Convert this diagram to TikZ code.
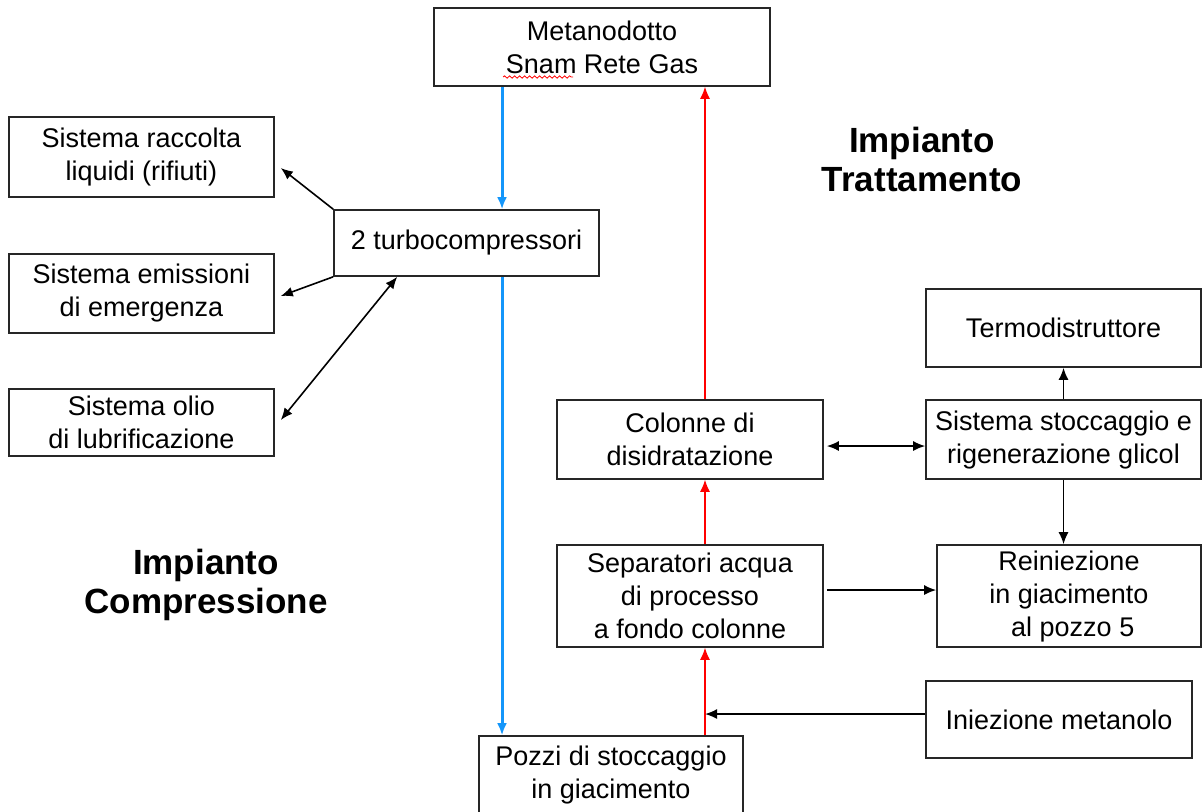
\documentclass[tikz,border=0pt]{standalone}
\usepackage{fontspec}
\setmainfont{Liberation Sans}
\usetikzlibrary{arrows.meta,decorations.pathmorphing}
\definecolor{flowblue}{RGB}{20,150,250}

\begin{document}
\begin{tikzpicture}[x=0.5pt,y=-0.5pt,>={Latex[length=6pt,width=5pt]},
  box/.style={draw=black!85,line width=0.8pt,fill=white,align=center,inner sep=0pt,
    font=\fontsize{13.5}{16.5}\selectfont},
  title/.style={align=center,font=\fontsize{17.5}{19.5}\selectfont\bfseries},
  link/.style={->,line width=0.8pt},
  gasdown/.style={->,flowblue,line width=1.5pt},
  gasup/.style={->,red,line width=0.6pt}]

\useasboundingbox (0,0) rectangle (1202,811);

% boxes
\node[box,minimum width=168pt,minimum height=39pt] (meta) at (602,47) {Metanodotto\\Snam Rete Gas};
\node[box,minimum width=132.5pt,minimum height=33pt] (turbo) at (466.5,243) {2 turbocompressori};
\node[box,minimum width=132.5pt,minimum height=40pt] (raccolta) at (141.5,157) {Sistema raccolta\\liquidi (rifiuti)};
\node[box,minimum width=132.5pt,minimum height=39.5pt] (emissioni) at (141.5,293.5) {Sistema emissioni\\di emergenza};
\node[box,minimum width=132.5pt,minimum height=33.5pt] (olio) at (141.5,422.5) {Sistema olio\\di lubrificazione};
\node[box,minimum width=133pt,minimum height=39.5pt] (colonne) at (690,439.5) {Colonne di\\disidratazione};
\node[box,minimum width=137.5pt,minimum height=39pt] (termo) at (1063.5,328) {Termodistruttore};
\node[box,minimum width=137.5pt,minimum height=39.5pt] (glicol) at (1063.5,439.5) {Sistema stoccaggio e\\rigenerazione glicol};
\node[box,minimum width=133pt,minimum height=51pt] (separ) at (690,596) {Separatori acqua\\di processo\\a fondo colonne};
\node[box,minimum width=132pt,minimum height=51pt] (reini) at (1069,596) {Reiniezione\\in giacimento\\\ al pozzo 5};
\node[box,minimum width=133pt,minimum height=38.5pt] (metanolo) at (1059,719.5) {Iniezione metanolo};
\node[box,minimum width=132pt,minimum height=39pt] (pozzi) at (611,775) {Pozzi di stoccaggio\\in giacimento};

% spell-check underline
\draw[red,line width=0.4pt,decorate,decoration={snake,amplitude=0.6pt,segment length=2.5pt}] (503,77) -- (573,77);

% titles
\node[title] (trattamento) at (922,159) {Impianto\\Trattamento};
\node[title] (compressione) at (206,585) {Impianto\\Compressione};

% gas lines
\coordinate (feed) at (502,0);
\coordinate (riser) at (705,0);
\draw[gasdown] (meta.south -| feed) -- (turbo.north -| feed);
\draw[gasdown] (turbo.south -| feed) -- (pozzi.north -| feed);
\draw[gasup] (pozzi.north -| riser) -- (separ.south -| riser);
\draw[gasup] (separ.north -| riser) -- (colonne.south -| riser);
\draw[gasup] (colonne.north -| riser) -- (meta.south -| riser);

% other links
\draw[link] (turbo.north west) -- ([xshift=3pt,yshift=-5.5pt]raccolta.east);
\draw[link] (turbo.south west) -- ([xshift=3pt,yshift=-1.25pt]emissioni.east);
\draw[link,<->] ([xshift=32pt]turbo.south west) -- ([xshift=3pt,yshift=1.25pt]olio.east);
\draw[link,<->] ([xshift=1.5pt,yshift=-3.25pt]colonne.east) -- ([yshift=-3.25pt]glicol.west);
\draw[link] (glicol.north) -- (termo.south);
\draw[link] (glicol.south) -- (glicol.south |- reini.north);
\draw[link] ([xshift=1.5pt,yshift=3pt]separ.east) -- ([yshift=3pt]reini.west);
\draw[link] ([yshift=2.75pt]metanolo.west) -- ([yshift=2.75pt]metanolo.west -| riser);

\end{tikzpicture}
\end{document}
